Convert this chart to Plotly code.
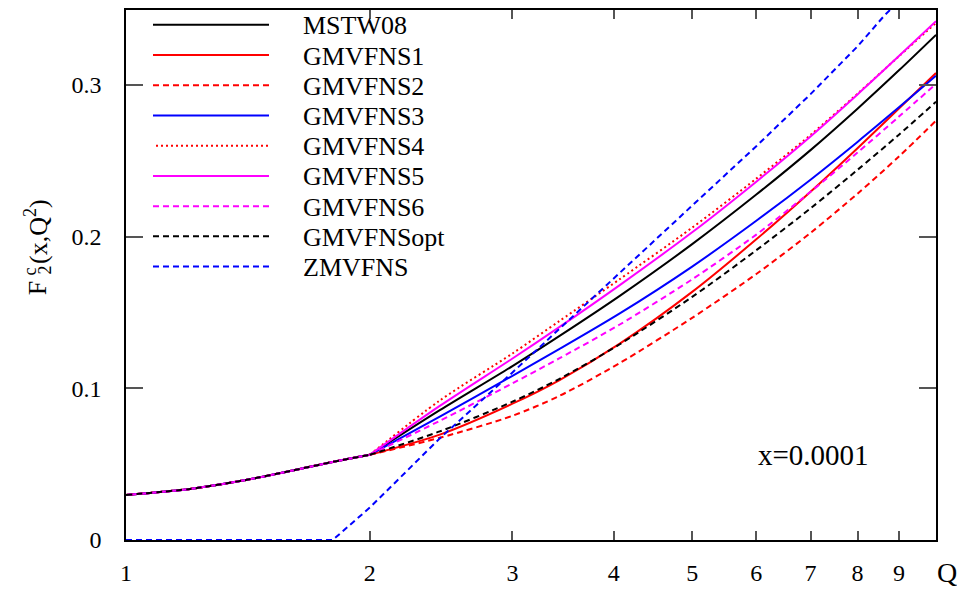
import plotly.graph_objects as go

# Q values (GeV) and F2^c(x=0.0001, Q^2) for each scheme
q_low = [1.0, 1.2, 1.4, 1.6, 1.8, 2.0]
f_low = [0.0297, 0.0337, 0.0394, 0.0457, 0.0515, 0.0562]

q_high = [2.0, 2.44, 3.0, 3.43, 4.07, 5.0, 6.0, 7.0, 8.0, 9.0, 10.0]
mstw08 = [0.0562, 0.0856, 0.1147, 0.1346, 0.1610, 0.1951, 0.2278, 0.2571, 0.2844, 0.3097, 0.3331]
gmvfns1 = [0.0562, 0.0695, 0.0899, 0.1055, 0.1295, 0.1636, 0.1983, 0.2297, 0.2584, 0.2845, 0.3079]
gmvfns2 = [0.0562, 0.0674, 0.0819, 0.0951, 0.1167, 0.1465, 0.1754, 0.2025, 0.2284, 0.2529, 0.2765]
gmvfns3 = [0.0562, 0.0814, 0.1083, 0.1260, 0.1494, 0.1803, 0.2105, 0.2376, 0.2625, 0.2853, 0.3061]
gmvfns4 = [0.0562, 0.0920, 0.1230, 0.1445, 0.1720, 0.2060, 0.2383, 0.2671, 0.2943, 0.3190, 0.3410]
gmvfns5 = [0.0562, 0.0884, 0.1197, 0.1405, 0.1681, 0.2029, 0.2363, 0.2661, 0.2938, 0.3191, 0.3421]
gmvfns6 = [0.0562, 0.0786, 0.1033, 0.1199, 0.1421, 0.1719, 0.2014, 0.2296, 0.2555, 0.2792, 0.3007]
gmvfnsopt = [0.0562, 0.0716, 0.0912, 0.1063, 0.1291, 0.1603, 0.1911, 0.2187, 0.2441, 0.2673, 0.2890]

q_zm = [1.0, 1.8, 2.0, 2.44, 3.0, 3.43, 4.07, 5.0, 6.0, 7.0, 8.0, 8.64, 10.0]
zmvfns = [0.0, 0.0, 0.0214, 0.0670, 0.1105, 0.1392, 0.1760, 0.2205, 0.2597, 0.2940, 0.3255, 0.3460, 0.3790]

x_ticks = [1, 2, 3, 4, 5, 6, 7, 8, 9]
x_ticktext = ["1", "2", "3", "4", "5", "6", "7", "8", "9"]
y_ticks = [0.0, 0.1, 0.2, 0.3]
y_ticktext = ["0", "0.1", "0.2", "0.3"]

SERIF = "Liberation Serif, Times New Roman, serif"

# name, values, colour, dash
series = [
    ("MSTW08", mstw08, "#000000", "solid"),
    ("GMVFNS1", gmvfns1, "#ff0000", "solid"),
    ("GMVFNS2", gmvfns2, "#ff0000", "6px,4px"),
    ("GMVFNS3", gmvfns3, "#0000ff", "solid"),
    ("GMVFNS4", gmvfns4, "#ff0000", "2px,3px"),
    ("GMVFNS5", gmvfns5, "#ff00ff", "solid"),
    ("GMVFNS6", gmvfns6, "#ff00ff", "6px,4px"),
    ("GMVFNSopt", gmvfnsopt, "#000000", "6px,4px"),
]

fig = go.Figure()

for name, vals, color, dash in series:
    line = dict(color=color, width=2, dash=dash, shape="spline", smoothing=0.8)
    # common low-Q part and the scheme-dependent part above the charm threshold
    fig.add_trace(go.Scatter(x=q_low, y=f_low, mode="lines", line=line,
                             showlegend=False, hoverinfo="skip"))
    fig.add_trace(go.Scatter(x=q_high, y=vals, mode="lines", line=line,
                             name=name, showlegend=False))

fig.add_trace(go.Scatter(x=q_zm, y=zmvfns, mode="lines", name="ZMVFNS",
                         line=dict(color="#0000ff", width=2, dash="6px,4px"),
                         showlegend=False))

# hand-made legend: long line samples with labels to their right
legend_items = [(n, c, d) for n, _, c, d in series] + [("ZMVFNS", "#0000ff", "6px,4px")]
PL, PW, PT, PH = 126, 810, 8, 535


def px(x):
    return (x - PL) / PW


def py(y):
    return (PT + PH - y) / PH


shapes = []
annotations = []
row0, row_step = 23, 30.5
for i, (name, color, dash) in enumerate(legend_items):
    yy = row0 + i * row_step
    x0 = 156 if dash == "2px,3px" else 153
    shapes.append(dict(type="line", xref="paper", yref="paper",
                       x0=px(x0), x1=px(269), y0=py(yy), y1=py(yy),
                       line=dict(color=color, width=2, dash=dash)))
    annotations.append(dict(text=name, xref="paper", yref="paper",
                            x=px(301), y=py(yy + 1), xanchor="left", yanchor="middle",
                            showarrow=False, font=dict(family=SERIF, size=26, color="black")))

annotations.append(dict(text="x=0.0001", xref="paper", yref="paper",
                        x=px(813), y=py(457), xanchor="center", yanchor="middle",
                        showarrow=False, font=dict(family=SERIF, size=29, color="black")))
annotations.append(dict(text="Q", xref="paper", yref="paper",
                        x=px(947), y=py(576), xanchor="center", yanchor="middle",
                        showarrow=False, font=dict(family=SERIF, size=28, color="black")))

# y-axis title with stacked superscript/subscript on F
title_font = dict(family=SERIF, size=26, color="black")
small_font = dict(family=SERIF, size=18, color="black")
annotations += [
    dict(text="F", x=px(37), y=py(289), textangle=-90, font=title_font),
    dict(text="c", x=px(30), y=py(272), textangle=-90, font=small_font),
    dict(text="2", x=px(45), y=py(271), textangle=-90, font=small_font),
    dict(text="(x,Q<sup>2</sup>)", x=px(37), y=py(232), textangle=-90, font=title_font),
]
for a in annotations[-4:]:
    a.update(xref="paper", yref="paper", xanchor="center", yanchor="middle", showarrow=False)

fig.update_layout(
    width=957, height=594,
    margin=dict(l=PL, r=21, t=PT, b=51),
    paper_bgcolor="white", plot_bgcolor="white",
    shapes=shapes, annotations=annotations,
    showlegend=False,
    xaxis=dict(type="log", range=[0, 1], tickmode="array", tickvals=x_ticks,
               ticktext=x_ticktext, ticks="inside", ticklen=9, tickwidth=1.5,
               tickcolor="#555555", showline=True, linecolor="black", linewidth=1.5,
               mirror="ticks", showgrid=False, zeroline=False,
               tickfont=dict(family=SERIF, size=24, color="black"),
               ticklabelstandoff=10),
    yaxis=dict(range=[0, 0.3495], tickmode="array", tickvals=y_ticks,
               ticktext=y_ticktext, ticks="inside", ticklen=17, tickwidth=1.5,
               tickcolor="#555555", showline=True, linecolor="black", linewidth=1.5,
               mirror="ticks", showgrid=False, zeroline=False,
               tickfont=dict(family=SERIF, size=24, color="black"),
               ticklabelstandoff=18),
)

fig.write_html("out.html")
